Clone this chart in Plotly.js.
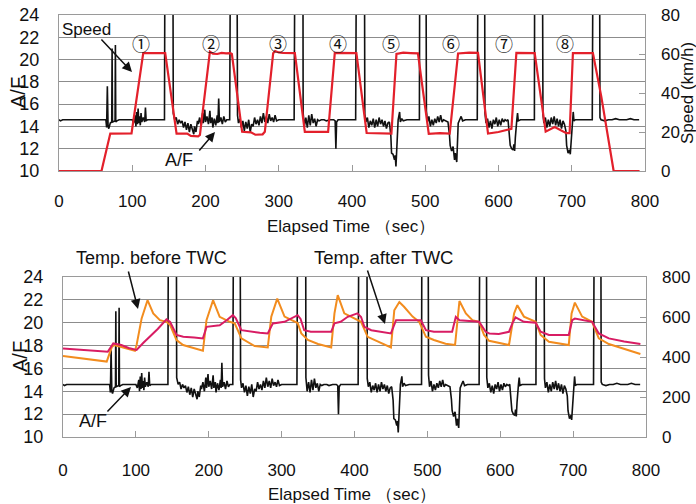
<!DOCTYPE html>
<html>
<head>
<meta charset="utf-8">
<script src="https://cdn.plot.ly/plotly-3.0.1.min.js"></script>
<style>html,body{margin:0;padding:0;background:#fff;}#chart{width:696px;height:504px;}</style>
</head>
<body>
<div id="chart"></div>
<script>
// ---- Data ----
const afTime = [0,2,5,10,15,20,25,30,35,40,45,50,55,60,64,65,66,67,68,70,72,72.5,73,76.5,77,77.5,79,82,86,90,95,100,102,104,105,106,107,108,109,110,111,112,113,115,117,118,119,121,125,130,135,140,144,144.6,155.5,156,158,160,162,164,166,168,170,172,174,176,178,180,182,184,185,187,189,190,192,194,196,197,199,200,202,204,206,207,209,210,212,214,216,217,218,219,221,223,225,227,229,233,234,243,243.7,245,247,249,251,253,255,257,259,261,263,265,267,269,271,273,275,277,279,281,283,285,287,289,291,293,295,297,300,305,310,315,321,322,333,333.3,335,337,339,341,343,345,347,349,351,353,355,358,362,365,370,375,377,378,379,381,385,390,395,400,405,406,417,417.5,419,421,423,425,427,429,431,433,435,437,439,441,443,445,447,449,451,453,454,456,458,459,460,461,462,463,465,466,468,470,475,480,485,492,492.5,501,501.6,503,505,507,509,511,513,515,517,519,521,523,525,528,531,533,534,536,538,540,541,543,544,545,547,549,551,555,560,565,571,572,581,581.5,583,585,587,589,591,593,595,597,599,601,603,605,607,609,611,613,614,616,618,620,621,622,623,624,625,626,627,630,635,640,645,649,649.4,660,660.7,662,664,666,668,670,672,674,676,678,680,682,684,686,688,690,692,693,695,697,698,699,700,701,702,703,705,710,715,720,728,729,738,738.5,740,745,750,755,760,765,770,775,780,785,792];
const afValue = [14.6,14.5,14.6,14.6,14.55,14.6,14.6,14.55,14.6,14.6,14.6,14.55,14.6,14.6,14.6,13.9,17.6,14.0,13.8,14.3,14.4,21.0,14.4,14.5,21.3,14.4,14.5,14.6,14.6,14.6,14.6,14.6,14.3,15.0,14.0,15.3,14.2,15.6,14.3,14.9,14.1,15.2,14.4,14.8,14.4,15.7,14.5,14.6,14.6,14.6,14.6,14.6,14.6,30,30,15.2,14.6,14.8,14.2,14.6,14.3,14.5,13.9,14.4,13.7,14.3,13.5,14.2,13.6,13.3,14.0,13.5,14.5,14.2,14.8,14.0,15.2,14.3,15.5,14.4,14.9,14.2,15.4,14.3,14.8,13.9,14.7,14.1,15.0,14.3,16.5,14.4,14.8,14.2,14.9,14.4,14.6,14.6,30,30,15.0,14.3,14.7,13.9,14.5,13.6,14.4,13.8,14.6,13.5,14.2,14.0,14.8,14.2,14.6,14.1,14.9,14.3,15.2,14.4,14.9,14.3,15.1,14.5,14.8,14.4,15.0,14.5,14.6,14.6,14.6,14.6,14.6,30,30,15.2,14.0,14.8,13.9,15.0,14.1,15.1,14.3,14.7,14.0,14.6,14.5,14.6,14.6,14.5,14.6,14.6,14.5,12.0,14.4,14.6,14.6,14.6,14.6,14.6,14.6,30,30,15.1,14.4,14.8,13.9,14.5,14.1,14.7,13.9,14.6,14.0,14.8,14.2,14.6,14.0,14.5,13.8,14.3,14.4,13.2,11.6,11.5,11.0,11.4,10.4,11.8,13.6,14.6,15.3,14.4,14.7,14.5,14.6,14.6,14.6,14.6,30,30,15.4,14.4,14.9,14.0,14.6,14.1,14.7,14.3,14.9,14.4,15.0,14.4,14.6,14.5,14.4,13.3,12.3,11.8,12.2,11.0,11.6,10.8,12.5,14.3,14.6,14.9,14.5,14.6,14.6,14.6,14.6,30,30,15.2,14.3,14.7,13.9,14.5,13.8,14.6,14.2,14.8,14.0,14.6,14.1,14.7,14.4,14.6,14.5,14.6,13.8,12.3,12.0,11.9,12.4,11.8,13.0,14.4,14.6,15.2,14.5,14.6,14.6,14.6,14.6,14.6,30,30,15.1,14.3,14.8,13.9,14.6,14.0,14.8,14.2,14.9,14.1,14.7,14.0,14.6,13.8,14.5,14.2,13.6,12.3,11.6,11.9,11.5,12.6,13.8,14.5,15.3,14.5,14.6,14.6,14.6,14.6,14.6,30,30,14.8,14.6,14.5,14.6,14.6,14.7,14.6,14.6,14.6,14.7,14.6,14.6];

const speedTime = [0,58,70,99,115,145,160.5,175,180,190,192.4,206,210,216,222,228,234,236,250,262,268,278,281,292.4,295,300,306,322,335.6,350,367.4,376.5,406,420,435,453.8,460.7,470,480,490,504.8,520,533.4,544.8,560,572,585.7,600,617.6,624.4,649.4,664.4,676.7,692.6,697.1,701.6,728.9,740.4,757.2,792.6];
const speedValue = [0,0,19.2,19.3,60.5,60.5,19.2,19.2,18.0,17.8,18.5,61.2,60.2,60.0,60.6,60.3,60.4,60.0,20.1,19.8,18.6,18.8,20.1,60.4,61.5,60.8,60.6,60.5,20.1,20.1,20.1,60.6,60.5,19.5,19.4,19.2,60.0,60.7,60.5,60.3,19.0,19.4,19.2,60.3,60.7,60.6,19.2,20.0,21.6,60.6,60.5,20.2,22.6,19.4,19.4,60.5,60.5,38.0,0,0];

const tBeforeTime = [0,20,40,60,66.8,70,80,90,98.7,101,107.9,116,123.8,133,142,147,155.8,164.8,180,192,196.9,205.9,215,228.8,235.6,244.8,263,281,285.8,294,304,317.7,322,327,336,350,368,372.5,377,386,400,409,418,423,440,450,454.6,461.5,468,479.7,488.8,498,509,525,538,544,552.8,561.8,571,577.8,584.7,600,612,619,623.4,632.5,648.6,655.4,666.8,694,697.9,702.4,712.4,726,735.2,749,770,792.3];
const tBeforeValue = [405,395,385,377,448,460,450,440,431,460,593,684,618,584,576,560,485,460,445,431,584,684,601,576,568,493,455,448,602,692,602,576,570,518,485,465,448,618,709,618,593,576,501,493,465,448,634,675,651,602,576,501,485,466,460,680,618,584,576,510,481,468,460,618,659,602,576,510,476,460,618,672,602,576,493,465,440,415];

const tAfterTime = [0,30,61.4,69,80,90,101,110,119,130,142,147,155.8,165,180,192,197,215,225,233,237,244.8,270,281,288,304,322,326,331,340,368,372.5,381,390.7,404,409,413.6,423,450,457,470,491,498,509,534,539,544,571,580,585,598,612,616.6,621,632.5,648.6,655.4,666.8,694,698.7,702.4,726,735.2,749,770,792.3];
const tAfterValue = [443,435,426,468,460,445,435,470,501,540,588,575,510,501,497,493,551,559,585,609,595,534,521,518,568,576,609,590,534,526,526,568,576,601,618,600,551,534,518,584,584,584,534,526,526,601,584,576,526,518,515,526,568,598,576,571,526,510,510,584,592,576,518,493,478,465];

const xTicks = [0,100,200,300,400,500,600,700,800];
const afTicks = [10,12,14,16,18,20,22,24];
const speedTicks = [0,20,40,60,80];
const tempTicks = [0,200,400,600,800];
const modeLabels = ['①','②','③','④','⑤','⑥','⑦','⑧'];
const modeCenters = [111.9,207.4,299.2,381.0,453.9,535.7,607.5,690.3];

// ---- Layout helpers ----
const W = 696, H = 504;
const px = v => v / W;
const py = v => 1 - v / H;
const FONT = 'Liberation Sans, Arial, Helvetica, sans-serif';
const GRID = '#8c8c8c';
const FRAME = '#9a9a9a';

const traces = [
  {x: afTime, y: afValue, xaxis:'x', yaxis:'y', mode:'lines', line:{color:'#111', width:1.6}, hoverinfo:'skip'},
  {x: speedTime, y: speedValue, xaxis:'x', yaxis:'y2', mode:'lines', line:{color:'#e3202b', width:2.2}, hoverinfo:'skip'},
  {x: afTime, y: afValue, xaxis:'x2', yaxis:'y3', mode:'lines', line:{color:'#111', width:1.6}, hoverinfo:'skip'},
  {x: tBeforeTime, y: tBeforeValue, xaxis:'x2', yaxis:'y4', mode:'lines', line:{color:'#f28c1e', width:2}, hoverinfo:'skip'},
  {x: tAfterTime, y: tAfterValue, xaxis:'x2', yaxis:'y4', mode:'lines', line:{color:'#d81c63', width:2}, hoverinfo:'skip'}
];

function xAxis(domain, anchor, standoff) {
  return {domain: domain, anchor: anchor, range:[0,800], tickvals: xTicks, ticktext: xTicks.map(String),
    ticks:'inside', ticklen:6, tickcolor: FRAME, showgrid:false, zeroline:false,
    showline:true, linecolor: FRAME, linewidth:1, mirror:true,
    tickfont:{size:17, color:'#111', family:FONT}, ticklabelstandoff: standoff};
}
function yLeft(domain, anchor) {
  return {domain: domain, anchor: anchor, range:[10,24], tickvals: afTicks, ticktext: afTicks.map(String),
    ticks:'', showgrid:true, gridcolor: GRID, gridwidth:1, zeroline:false,
    showline:true, linecolor: FRAME, linewidth:1, mirror:true,
    tickfont:{size:18, color:'#111', family:FONT}, ticklabelstandoff:15};
}
function yRight(over, anchor, range, vals) {
  return {overlaying: over, anchor: anchor, side:'right', range: range, tickvals: vals, ticktext: vals.map(String),
    ticks:'inside', ticklen:6, tickcolor: FRAME, showgrid:false, zeroline:false, showline:false,
    tickfont:{size:17, color:'#111', family:FONT}, ticklabelstandoff:15};
}

const annotations = [];
function txt(text, x, y, size, angle) {
  annotations.push({text: text, xref:'paper', yref:'paper', x: px(x), y: py(y), xanchor:'center', yanchor:'middle',
    showarrow:false, textangle: angle || 0, font:{size: size, color:'#111', family: FONT}});
}
function arrow(tx, ty, hx, hy) {
  annotations.push({text:'', xref:'paper', yref:'paper', x: px(hx), y: py(hy), ax: tx - hx, ay: ty - hy,
    showarrow:true, arrowhead:2, arrowsize:1.3, arrowwidth:1.5, arrowcolor:'#111'});
}

txt('Speed', 86, 29, 17);
arrow(100, 38, 132, 72);
txt('A/F', 179, 160, 18);
arrow(198, 152, 215, 132);
modeLabels.forEach((m, i) => {
  annotations.push({text: m, xref:'x', yref:'y', x: modeCenters[i], y: 21.45, showarrow:false,
    xanchor:'center', yanchor:'middle', font:{size:18, color:'#111', family:'Noto Sans CJK JP, DejaVu Sans, sans-serif'}});
});
txt('A/F', 18, 93, 20, -90);
txt('Speed (km/h)', 687, 93, 17, -90);
txt('Elapsed Time （sec）', 351, 227, 17);

txt('Temp. before TWC', 151, 258, 18);
arrow(128, 270, 138, 309);
txt('Temp. after TWC', 383, 257, 18.5);
arrow(367, 269, 385, 324);
txt('A/F', 93, 421, 18);
arrow(106, 413, 131, 387);
txt('A/F', 20, 357, 20, -90);
txt('Elapsed Time （sec）', 352, 494, 17);

const layout = {
  width: W, height: H, margin:{l:0, r:0, t:0, b:0}, showlegend:false,
  paper_bgcolor:'#fff', plot_bgcolor:'#fff', font:{family: FONT, color:'#111'},
  xaxis: xAxis([59/W, 645/W], 'y', 15),
  yaxis: yLeft([py(171), py(15)], 'x'),
  yaxis2: yRight('y', 'x', [0,80], speedTicks),
  xaxis2: xAxis([63/W, 646/W], 'y3', 18),
  yaxis3: yLeft([py(437), py(277)], 'x2'),
  yaxis4: yRight('y3', 'x2', [0,800], tempTicks),
  annotations: annotations
};

Plotly.newPlot('chart', traces, layout, {staticPlot:true, displayModeBar:false});
</script>
</body>
</html>
